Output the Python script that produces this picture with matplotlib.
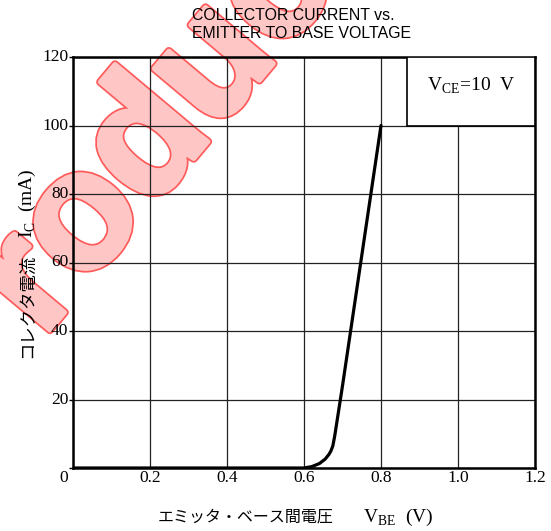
import matplotlib
matplotlib.use("Agg")
import matplotlib.pyplot as plt
import matplotlib.patheffects as pe
from matplotlib.patches import Rectangle

# 読み取った値
vbe = [0.0, 0.60, 0.62, 0.64, 0.655, 0.665, 0.67, 0.675, 0.68, 0.70, 0.75, 0.80]
ic = [0.0, 0.0, 0.4, 1.3, 2.6, 4.0, 5.0, 6.5, 9.5, 24.0, 62.0, 100.0]

x_ticks = [0.2, 0.4, 0.6, 0.8, 1.0, 1.2]
x_labels = ["0.2", "0.4", "0.6", "0.8", "1.0", "1.2"]
y_ticks = [20, 40, 60, 80, 100, 120]
y_labels = ["20", "40", "60", "80", "100", "120"]

title = "COLLECTOR CURRENT vs.\nEMITTER TO BASE VOLTAGE"
cond = r"V$_{\mathregular{CE}}$=10  V"
xlab_jp = "エミッタ・ベース間電圧"
xlab_en = r"V$_{\mathregular{BE}}$  (V)"
ylab_jp = "コレクタ電流"
ylab_en = r"I$_{\mathregular{C}}$  (mA)"
watermark = "Product"

serif = "Liberation Serif"
jp = "Noto Sans CJK JP"

fig = plt.figure(figsize=(5.51, 5.31), dpi=100)
ax = fig.add_axes([73 / 551, 1 - 468 / 531, 462 / 551, 411 / 531])
ax.set_facecolor("none")

# 透かし (軸の後ろ)
fig.text(-29 / 551, 1 - 424 / 531, watermark, fontsize=120, fontweight="bold",
         family="Liberation Sans", color="#ffc6c6", rotation=50,
         rotation_mode="anchor", ha="left", va="baseline", zorder=-5,
         path_effects=[pe.Stroke(linewidth=6, foreground="#ff5a5a"),
                       pe.Stroke(linewidth=3.5, foreground="#ffc6c6"),
                       pe.Normal()])

ax.set_xlim(0, 1.2)
ax.set_ylim(0, 120)
ax.set_xticks([0.2 * i for i in range(7)])
ax.set_yticks([20 * i for i in range(7)])
ax.grid(True, color="#222222", lw=0.9)
ax.set_xticklabels([])
ax.set_yticklabels([])
ax.tick_params(axis="x", length=0)
ax.tick_params(axis="y", length=3, width=1, direction="out")
for s in ax.spines.values():
    s.set_linewidth(1.8)

for v, lab in zip(x_ticks, x_labels):
    ax.text(v, -2.9, lab, ha="center", va="center", family=serif, fontsize=12.5)
for v, lab in zip(y_ticks, y_labels):
    ax.text(-0.012, v, lab, ha="right", va="center", family=serif, fontsize=12.5)
ax.text(-0.023, -2.9, "0", ha="center", va="center", family=serif, fontsize=12.5)

ax.plot(vbe, ic, color="black", lw=2.3, solid_capstyle="round", zorder=4)

# 条件の枠
ax.add_patch(Rectangle((0.867, 100), 1.2 - 0.867, 20, facecolor="white",
                       edgecolor="black", lw=1.2, zorder=3))
ax.text(1.033, 111.5, cond, ha="center", va="center", family=serif,
        fontsize=14, zorder=5)

fig.text(192 / 551, 1 - 24 / 531, title, ha="left", va="center",
         family="Liberation Sans", fontsize=11.4, linespacing=1.25)

fig.text(246 / 551, 1 - 517 / 531, xlab_jp, ha="center", va="center",
         family=jp, fontsize=11.5)
fig.text(398 / 551, 1 - 517 / 531, xlab_en, ha="center", va="center",
         family=serif, fontsize=14)
fig.text(27 / 551, 1 - 306 / 531, ylab_jp, ha="center", va="center",
         family=jp, fontsize=12.5, rotation=90)
fig.text(27 / 551, 1 - 203 / 531, ylab_en, ha="center", va="center",
         family=serif, fontsize=14, rotation=90)

fig.savefig("out.png", dpi=100)
